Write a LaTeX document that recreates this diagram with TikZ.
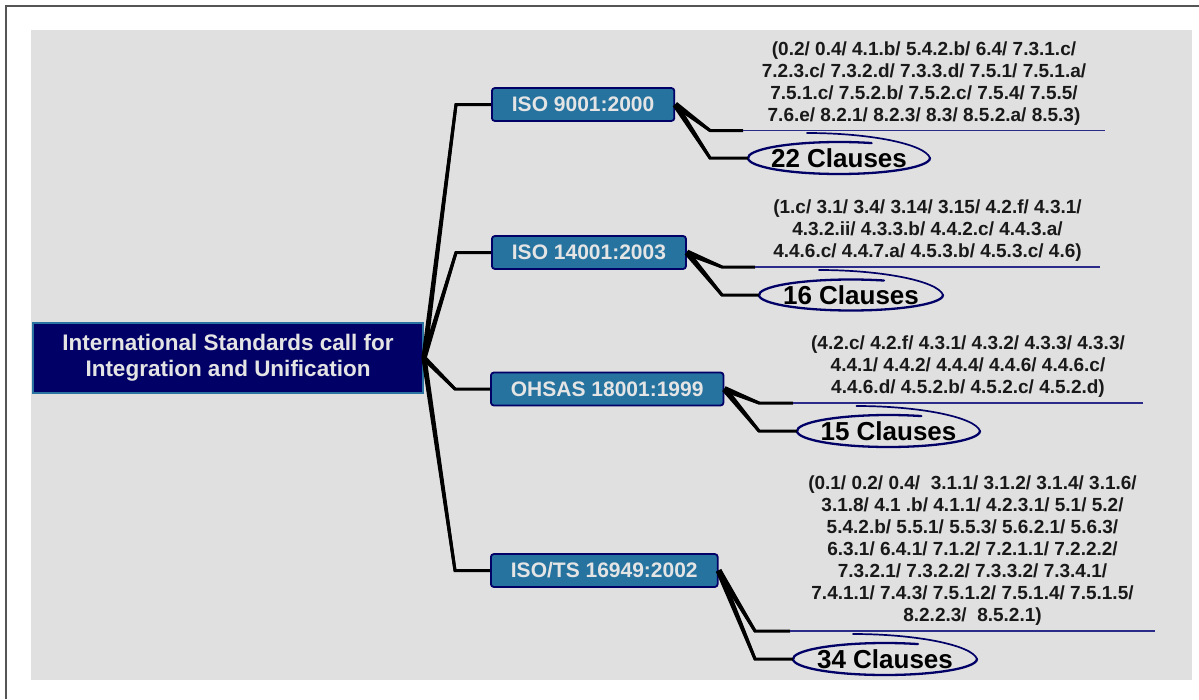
\documentclass[tikz,border=0pt]{standalone}
\usepackage{fontspec}
\setmainfont{Liberation Sans}
\usetikzlibrary{calc}

\definecolor{panelgray}{HTML}{E0E0E0}
\definecolor{rootnavy}{HTML}{000066}
\definecolor{rootedge}{HTML}{2A72A0}
\definecolor{stdfill}{HTML}{2673A0}
\definecolor{stdtext}{HTML}{E4E4E4}
\definecolor{ulinecol}{HTML}{2B2B8A}
\definecolor{framegray}{HTML}{555555}

% tapered fill along a straight segment: from half-width #3 at #1 to #4 at #2
\newcommand\taperseg[4]{\fill ($(#1)!#3!90:(#2)$) -- ($(#2)!#4!-90:(#1)$) -- ($(#2)!#4!90:(#1)$) -- ($(#1)!#3!-90:(#2)$) -- cycle;}
% hand-drawn ring round a label node, with an overshooting upper stroke
\newcommand\handloop[3]{%
  \draw[loopline] ($(#1.center)+(-69:#2 and #3)$)
    arc[start angle=-69,end angle=-360,x radius=#2,y radius=#3];
  \draw[loopline,line width=1.7pt] ($(#1.center)+(#2,0)$)
    .. controls ($(#1.center)+(#2-5,-14)$) and ($(#1.center)+(31,-25)$)
    .. ($(#1.center)+(-32,-25)$);}

\begin{document}
\begin{tikzpicture}[x=1pt,y=-1pt,
  rootbox/.style={fill=rootnavy,draw=rootedge,line width=2pt,minimum width=390pt,
    minimum height=70pt,inner sep=0pt,text=stdtext,align=center,
    font=\fontsize{22.5}{26}\selectfont\bfseries},
  stdbox/.style={anchor=west,fill=stdfill,draw=rootnavy,line width=1.8pt,rounded corners=3pt,
    inner xsep=20pt,inner ysep=0pt,minimum height=33pt,text=stdtext,
    font=\fontsize{21}{24}\selectfont\bfseries},
  branch/.style={line width=3pt,line join=miter,black},
  uline/.style={line width=1.1pt,ulinecol},
  loopline/.style={line width=2.3pt,rootnavy,line cap=round},
  clausetext/.style={anchor=south,inner sep=0pt,align=center,text=black!90,
    font=\fontsize{19}{22}\selectfont\bfseries},
  clauselabel/.style={inner sep=0pt,minimum height=32pt,text=black,
    font=\fontsize{26}{30}\selectfont\bfseries}]

\fill[white] (0,0) rectangle (1199,699);
\useasboundingbox (0,0) rectangle (1199,699);
\fill[panelgray] (31,30) rectangle (1192,680);
\draw[framegray,line width=2pt] (6,699) -- (6,6) -- (1199,6);

% central topic
\node[rootbox] (root) at (228,358) {International Standards call for\\Integration and Unification};

% standards
\node[stdbox] (s1) at (491,104.5) {ISO 9001:2000};
\node[stdbox] (s2) at (491,252.5) {ISO 14001:2003};
\node[stdbox] (s3) at (490,389) {OHSAS 18001:1999};
\node[stdbox] (s4) at (490,570.5) {ISO/TS 16949:2002};

% branches from the central topic
\foreach \s in {s1,s2,s3,s4}{
  \coordinate (\s-e) at ($(\s.west)+(-35,0)$);
  \draw[branch] (root.east) -- (\s-e) -- (\s.west);
  \taperseg{root.east}{\s-e}{2.6pt}{1.5pt}
}

% clause counts
\node[clauselabel,minimum width=182pt] (c1) at (839,158) {22 Clauses};
\node[clauselabel,minimum width=184pt] (c2) at (851,295) {16 Clauses};
\node[clauselabel,minimum width=183pt] (c3) at (888.5,431) {15 Clauses};
\node[clauselabel,minimum width=184pt] (c4) at (885,659) {34 Clauses};
\handloop{c1}{91}{16}
\handloop{c2}{92}{15.5}
\handloop{c3}{91.5}{16}
\handloop{c4}{92}{16}

% elbows and underlines
\coordinate (k1) at (710,130.5); \coordinate (m1) at (710,158);
\coordinate (u1a) at (743,130.5); \coordinate (u1b) at (1105,130.5);
\coordinate (k2) at (722,267); \coordinate (m2) at (722,295);
\coordinate (u2a) at (755,267); \coordinate (u2b) at (1100,267);
\coordinate (k3) at (759,403); \coordinate (m3) at (759,431);
\coordinate (u3a) at (793,403); \coordinate (u3b) at (1143,403);
\coordinate (k4) at (755,631); \coordinate (m4) at (755,659);
\coordinate (u4a) at (790,631); \coordinate (u4b) at (1155,631);

\foreach \i in {1,2,3,4}{
  \draw[branch] (s\i.east) -- (k\i) -- (u\i a);
  \draw[branch] (s\i.east) -- (m\i) -- (c\i.west);
  \taperseg{s\i.east}{k\i}{3pt}{1.5pt}
  \taperseg{s\i.east}{m\i}{3pt}{1.5pt}
  \draw[uline] (u\i a) -- (u\i b);
}

% clause lists
\node[clausetext] (t1) at ($(u1a)!.5!(u1b)+(0,-5)$)
  {(0.2/ 0.4/ 4.1.b/ 5.4.2.b/ 6.4/ 7.3.1.c/\\7.2.3.c/ 7.3.2.d/ 7.3.3.d/ 7.5.1/ 7.5.1.a/\\7.5.1.c/ 7.5.2.b/ 7.5.2.c/ 7.5.4/ 7.5.5/\\7.6.e/ 8.2.1/ 8.2.3/ 8.3/ 8.5.2.a/ 8.5.3)};
\node[clausetext] (t2) at ($(u2a)!.5!(u2b)+(0,-5)$)
  {(1.c/ 3.1/ 3.4/ 3.14/ 3.15/ 4.2.f/ 4.3.1/\\4.3.2.ii/ 4.3.3.b/ 4.4.2.c/ 4.4.3.a/\\4.4.6.c/ 4.4.7.a/ 4.5.3.b/ 4.5.3.c/ 4.6)};
\node[clausetext] (t3) at ($(u3a)!.5!(u3b)+(0,-5)$)
  {(4.2.c/ 4.2.f/ 4.3.1/ 4.3.2/ 4.3.3/ 4.3.3/\\4.4.1/ 4.4.2/ 4.4.4/ 4.4.6/ 4.4.6.c/\\4.4.6.d/ 4.5.2.b/ 4.5.2.c/ 4.5.2.d)};
\node[clausetext] (t4) at ($(u4a)!.5!(u4b)+(0,-5)$)
  {(0.1/ 0.2/ 0.4/~ 3.1.1/ 3.1.2/ 3.1.4/ 3.1.6/\\3.1.8/ 4.1 .b/ 4.1.1/ 4.2.3.1/ 5.1/ 5.2/\\5.4.2.b/ 5.5.1/ 5.5.3/ 5.6.2.1/ 5.6.3/\\6.3.1/ 6.4.1/ 7.1.2/ 7.2.1.1/ 7.2.2.2/\\7.3.2.1/ 7.3.2.2/ 7.3.3.2/ 7.3.4.1/\\7.4.1.1/ 7.4.3/ 7.5.1.2/ 7.5.1.4/ 7.5.1.5/\\8.2.2.3/~ 8.5.2.1)};
\end{tikzpicture}
\end{document}
